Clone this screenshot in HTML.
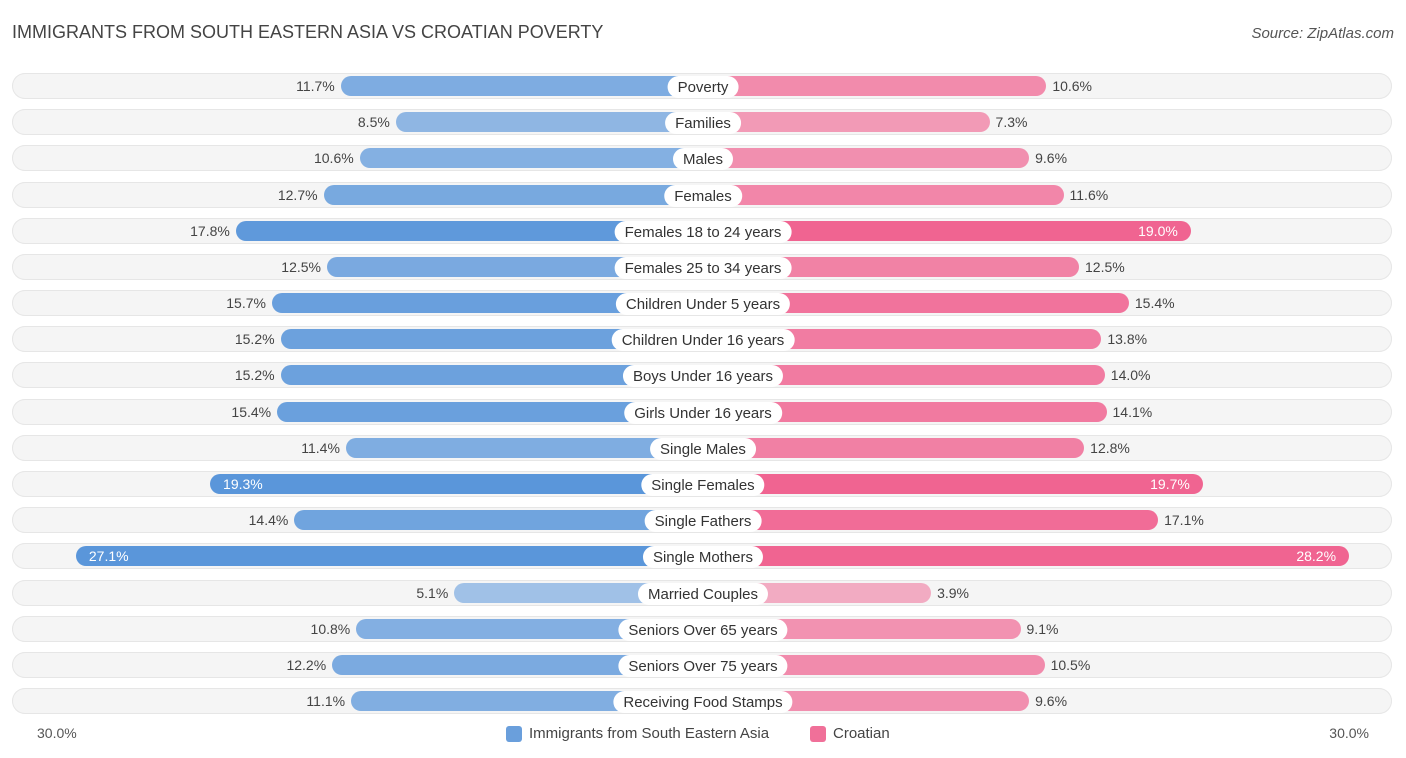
<!DOCTYPE html>
<html><head><meta charset="utf-8"><style>
body{margin:0;width:1406px;height:758px;background:#fff;font-family:"Liberation Sans",sans-serif;position:relative;overflow:hidden}
.t{position:absolute;left:12px;top:22px;font-size:18px;color:#444}
.s{position:absolute;right:12px;top:25px;font-size:15px;color:#555;font-style:italic}
.row{position:absolute;left:12px;width:1380px;height:26px;border-radius:13px;background:#f5f5f5;box-shadow:0 0 0 1px #e6e6e6 inset}
.bar{position:absolute;height:20px;border-radius:10px}
.lab{position:absolute;height:22px;line-height:23px;padding:0 10px;background:#fff;border-radius:11px;font-size:15px;color:#333;transform:translateX(-50%);white-space:nowrap}
.v{position:absolute;font-size:14px;color:#444;line-height:20px}
.ax{position:absolute;top:725px;font-size:14px;color:#555}
.leg{position:absolute;top:725px;font-size:15px;color:#444;display:flex;align-items:center}
.sw{width:16px;height:16px;border-radius:3px;margin-right:7px}
</style></head><body>
<div class="t">IMMIGRANTS FROM SOUTH EASTERN ASIA VS CROATIAN POVERTY</div>
<div class="s">Source: ZipAtlas.com</div>
<div id="chart"></div>
<div class="ax" style="left:37px">30.0%</div>
<div class="ax" style="right:37px">30.0%</div>
<div class="leg" style="left:506px"><div class="sw" style="background:#6a9fdc"></div>Immigrants from South Eastern Asia</div>
<div class="leg" style="left:810px"><div class="sw" style="background:#f07099"></div>Croatian</div>
<script>
const categories=["Poverty","Families","Males","Females","Females 18 to 24 years","Females 25 to 34 years","Children Under 5 years","Children Under 16 years","Boys Under 16 years","Girls Under 16 years","Single Males","Single Females","Single Fathers","Single Mothers","Married Couples","Seniors Over 65 years","Seniors Over 75 years","Receiving Food Stamps"];
const immigrants=[11.7,8.5,10.6,12.7,17.8,12.5,15.7,15.2,15.2,15.4,11.4,19.3,14.4,27.1,5.1,10.8,12.2,11.1];
const croatian=[10.6,7.3,9.6,11.6,19.0,12.5,15.4,13.8,14.0,14.1,12.8,19.7,17.1,28.2,3.9,9.1,10.5,9.6];
const C=703,top0=86,step=36.18;
function len(v){return 161+17.2*v;}
const ch=document.getElementById('chart');
function mk(cls,name,inter){const e=document.createElement('div');e.className=cls;


ch.appendChild(e);return e;}
categories.forEach((c,i)=>{
 const y=top0+i*step;
 const r=mk('row','row-'+i,'false');r.style.top=(y-13)+'px';
 const a=immigrants[i],b=croatian[i];
 const la=len(a),lb=len(b);
 const ba=mk('bar','bar-immigrants-'+i,'true');
 const oa=Math.min(1,0.38+a/30);
 ba.style.cssText+=`left:${C-la}px;width:${la}px;top:${y-10}px;background:rgba(90,150,218,${oa})`;
 const bb=mk('bar','bar-croatian-'+i,'true');
 const ob=Math.min(1,0.38+b/30);
 bb.style.cssText+=`left:${C}px;width:${lb}px;top:${y-10}px;background:rgba(240,100,145,${ob})`;
 const va=mk('v','value-immigrants-'+i,'false');va.textContent=a.toFixed(1)+'%';
 if(a>19){va.style.cssText+=`left:${C-la+13}px;top:${y-10}px;color:#fff`;}
 else{va.style.cssText+=`right:${1406-(C-la)+6}px;top:${y-10}px`;}
 const vb=mk('v','value-croatian-'+i,'false');vb.textContent=b.toFixed(1)+'%';
 if(b>18.5){vb.style.cssText+=`right:${1406-(C+lb)+13}px;top:${y-10}px;color:#fff`;}
 else{vb.style.cssText+=`left:${C+lb+6}px;top:${y-10}px`;}
 const l=mk('lab','label-'+i,'false');l.textContent=c;l.style.left=C+'px';l.style.top=(y-10)+'px';
});
</script>
</body></html>
